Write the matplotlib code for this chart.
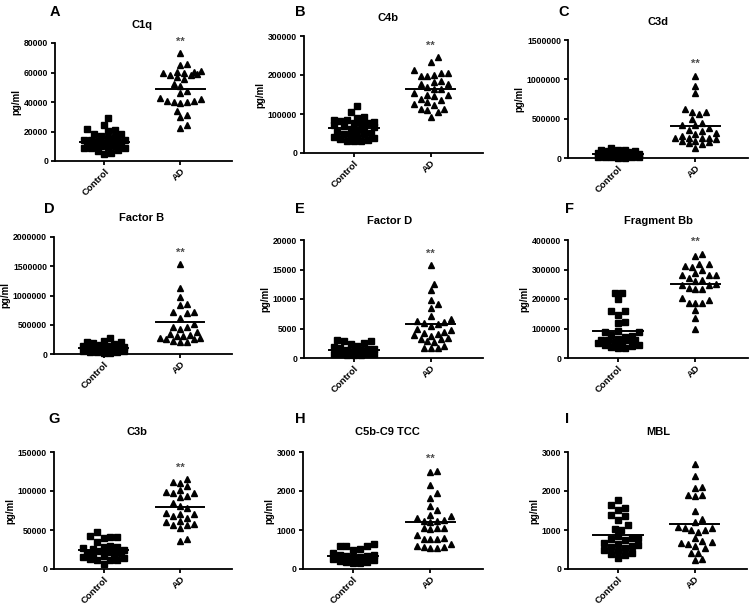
'''
Complement proteins in plasma: control vs AD dot plots (3x3 panels).
'''

import numpy as np
import matplotlib as mpl
mpl.use('Agg')
from matplotlib import pyplot as plt

mpl.rcParams['font.family'] = ['Liberation Sans', 'DejaVu Sans']
mpl.rcParams['font.weight'] = 'bold'
mpl.rcParams['axes.labelweight'] = 'bold'
mpl.rcParams['axes.titleweight'] = 'bold'

#(0) Data:
letters = ['A', 'B', 'C', 'D', 'E', 'F', 'G', 'H', 'I']
titles  = ['C1q', 'C4b', 'C3d', 'Factor B', 'Factor D', 'Fragment Bb', 'C3b', 'C5b-C9 TCC', 'MBL']
groups  = ['Control', 'AD']
ymax    = [80000, 300000, 1500000, 2000000, 20000, 400000, 150000, 3000, 3000]
ystep   = [20000, 100000, 500000, 500000, 5000, 100000, 50000, 1000, 1000]
signif  = [True, True, True, True, True, True, True, True, False]

ctrl_c1q = [29000, 24500, 21500, 21000, 20500, 18500, 18000, 17000, 16000, 15500, 14500, 14000, 14000, 13500, 13500,
            13000, 12500, 12000, 11500, 11000, 10500, 10000, 9500, 9000, 9000, 8500, 7500, 6500, 5500, 5000]
ad_c1q   = [73000, 66000, 65000, 61000, 60500, 60500, 60000, 59500, 59000, 58500, 58000, 57000, 55500, 52000, 51000,
            47500, 46000, 43000, 42000, 41000, 40500, 40000, 40000, 39500, 34000, 31000, 30000, 24500, 22500]
ctrl_c4b = [120000, 105000, 93000, 90000, 85000, 85000, 82000, 80000, 78000, 77000, 77000, 72000, 70000, 66000, 63000,
            62000, 60000, 55000, 52000, 50000, 48000, 47000, 42000, 40000, 38000, 35000, 34000, 32000, 31000, 30000]
ad_c4b   = [245000, 233000, 213000, 206000, 205000, 200000, 198000, 197000, 185000, 182000, 178000, 176000, 170000,
            165000, 163000, 153000, 150000, 148000, 145000, 138000, 136000, 132000, 125000, 122000, 113000, 112000,
            110000, 104000, 93000]
ctrl_c3d = [130000, 105000, 100000, 98000, 95000, 92000, 80000, 75000, 65000, 60000, 55000, 50000, 45000, 40000, 38000,
            35000, 32000, 30000, 28000, 25000, 22000, 20000, 18000, 15000, 12000, 10000, 8000, 5000, 3000]
ad_c3d   = [1040000, 920000, 820000, 620000, 590000, 590000, 560000, 500000, 440000, 420000, 420000, 380000, 360000,
            340000, 320000, 300000, 280000, 260000, 260000, 250000, 250000, 240000, 220000, 210000, 200000, 190000,
            180000, 130000]
ctrl_fb  = [270000, 230000, 210000, 200000, 190000, 170000, 150000, 140000, 130000, 120000, 110000, 100000, 95000,
            90000, 85000, 80000, 75000, 70000, 65000, 60000, 55000, 50000, 45000, 40000, 35000, 30000, 25000, 20000]
ad_fb    = [1530000, 1130000, 980000, 860000, 830000, 720000, 710000, 700000, 610000, 520000, 470000, 460000, 430000,
            370000, 350000, 330000, 310000, 300000, 280000, 270000, 260000, 250000, 220000, 210000, 200000]
ctrl_fd  = [3100, 2800, 2800, 2500, 2300, 2000, 1800, 1700, 1600, 1500, 1400, 1300, 1200, 1100, 1000, 950, 900, 850,
            800, 750, 700, 650, 600, 550, 500, 450]
ad_fd    = [15700, 12500, 11500, 9900, 9100, 8400, 7200, 6600, 6200, 6100, 6000, 5700, 5500, 4900, 4800, 4400, 4200,
            4000, 3900, 3800, 3400, 3300, 3200, 2800, 2700, 2000, 1700, 1700, 1700]
ctrl_bb  = [222000, 222000, 200000, 160000, 160000, 147000, 122000, 118000, 90000, 88000, 88000, 78000, 76000, 70000,
            65000, 62000, 60000, 60000, 60000, 55000, 52000, 50000, 45000, 43000, 40000, 37000, 35000, 33000]
ad_bb    = [353000, 345000, 320000, 320000, 312000, 308000, 298000, 288000, 282000, 281000, 280000, 270000, 264000,
            262000, 250000, 248000, 247000, 237000, 235000, 234000, 205000, 197000, 188000, 187000, 186000, 162000,
            137000, 97000]
ctrl_c3b = [47000, 42000, 41000, 41000, 40000, 35000, 30000, 28000, 28000, 27000, 26000, 25000, 24000, 23000, 22000,
            21000, 20000, 19000, 18000, 17000, 15000, 14000, 13000, 12000, 12000, 11000, 7000]
ad_c3b   = [115000, 112000, 110000, 106000, 101000, 99000, 98000, 97000, 93000, 92000, 84000, 81000, 78000, 72000,
            71000, 70000, 68000, 65000, 62000, 60000, 58000, 57000, 56000, 52000, 38000, 36000]
ctrl_tcc = [650, 600, 590, 590, 520, 500, 400, 370, 350, 340, 330, 320, 310, 300, 300, 290, 280, 270, 260, 250, 230,
            210, 190, 170, 160, 150]
ad_tcc   = [2520, 2500, 2150, 1950, 1820, 1610, 1510, 1380, 1370, 1300, 1260, 1240, 1230, 1200, 1060, 1050, 1040, 1020,
            880, 790, 780, 760, 760, 640, 590, 570, 560, 550, 540]
ctrl_mbl = [1780, 1640, 1560, 1510, 1380, 1350, 1250, 1130, 1030, 1000, 840, 800, 790, 760, 750, 660, 640, 620, 600,
            570, 550, 480, 460, 420, 390, 370, 270]
ad_mbl   = [2700, 2380, 2110, 2080, 1900, 1890, 1880, 1480, 1270, 1210, 1070, 1060, 1040, 1010, 990, 960, 800, 720,
            680, 660, 650, 590, 550, 420, 400, 250, 240]

controls = [ctrl_c1q, ctrl_c4b, ctrl_c3d, ctrl_fb, ctrl_fd, ctrl_bb, ctrl_c3b, ctrl_tcc, ctrl_mbl]
ads      = [ad_c1q, ad_c4b, ad_c3d, ad_fb, ad_fd, ad_bb, ad_c3b, ad_tcc, ad_mbl]
line_ctrl = [13000, 64000, 45000, 100000, 1300, 91000, 24000, 330, 870]
line_ad   = [48800, 165000, 410000, 545000, 5800, 252000, 80000, 1210, 1150]

# layout in pixels of a 750x604 canvas
W, H = 750, 604
boxes = [(55, 43, 232, 161), (304, 36, 483, 153), (568, 40, 748, 158),
         (54, 237, 232, 354), (304, 240, 483, 358), (568, 240, 748, 358),
         (54, 452, 232, 569), (303, 452, 483, 569), (568, 452, 747, 569)]
letter_xy = [(50, 12), (295, 12), (558, 12), (44, 209), (295, 209), (565, 209), (48, 419), (295, 419), (565, 419)]
title_xy  = [(142, 25), (388, 18), (658, 22), (142, 218), (390, 221), (658, 221), (137, 432), (387, 432), (658, 432)]
XLIM = (-0.65, 1.68)


def swarm(vals, ypx, xpx, d=6.8, wmax=23.0):
	'''greedy beeswarm in pixel space; rows wider than wmax are allowed to overlap'''
	vals  = np.asarray(vals, float)
	order = np.argsort(vals)
	offs  = np.zeros(len(vals))
	placed = []
	cands = [0.0]
	for k in np.arange(0.5, wmax / d + 0.01, 0.5):
		cands += [k * d, -k * d]
	for i in order:
		y = vals[i] * ypx
		best, bestgap = 0.0, -1
		for x in cands:
			gap = min([np.hypot(x - px, y - py) for px, py in placed], default=1e9)
			if gap >= d:
				best = x
				break
			if gap > bestgap:
				best, bestgap = x, gap
		placed.append((best, y))
		offs[i] = best / xpx
	return offs


#(1) Plot:
fig = plt.figure(figsize=(W/100, H/100), dpi=100)
for i in range(9):
	l, t, r, b = boxes[i]
	ax = fig.add_axes([l/W, 1 - b/H, (r - l)/W, (b - t)/H])
	ax.set_xlim(*XLIM)
	ax.set_ylim(0, ymax[i])
	ypx = (b - t) / ymax[i]
	xpx = (r - l) / (XLIM[1] - XLIM[0])
	for x0, vals, mk in zip([0, 1], [controls[i], ads[i]], ['s', '^']):
		off = swarm(vals, ypx, xpx)
		ax.plot(x0 + off, vals, ls='none', marker=mk, ms=4.4, mfc='k', mec='k', clip_on=False)
	for x0, m in zip([0, 1], [line_ctrl[i], line_ad[i]]):
		ax.plot([x0 - 0.32, x0 + 0.32], [m, m], 'k', lw=1.4)
	if signif[i]:
		ax.annotate('**', (1, max(ads[i])), xytext=(0, 5), textcoords='offset points',
		            ha='center', va='bottom', fontsize=8, color='0.3')
	ticks = np.arange(0, ymax[i] + 1, ystep[i])
	ax.set_xticks([0, 1])
	ax.set_xticklabels(groups, rotation=45, ha='right', rotation_mode='anchor', fontsize=6.8)
	ax.set_yticks(ticks)
	ax.set_yticklabels([f'{v:d}' for v in ticks], fontsize=6.2)
	ax.set_ylabel('pg/ml', fontsize=7, labelpad=1.5)
	fig.text(title_xy[i][0]/W, 1 - title_xy[i][1]/H, titles[i], ha='center', va='center', fontsize=8)
	fig.text(letter_xy[i][0]/W, 1 - letter_xy[i][1]/H, letters[i], ha='left', va='center', fontsize=10.5)
	for sp in ['top', 'right']:
		ax.spines[sp].set_visible(False)
	for sp in ['left', 'bottom']:
		ax.spines[sp].set_linewidth(1.3)
	ax.tick_params(direction='out', length=3, width=1.3, pad=2)
	ax.tick_params(axis='x', pad=1)

plt.savefig('out.png', dpi=100)
